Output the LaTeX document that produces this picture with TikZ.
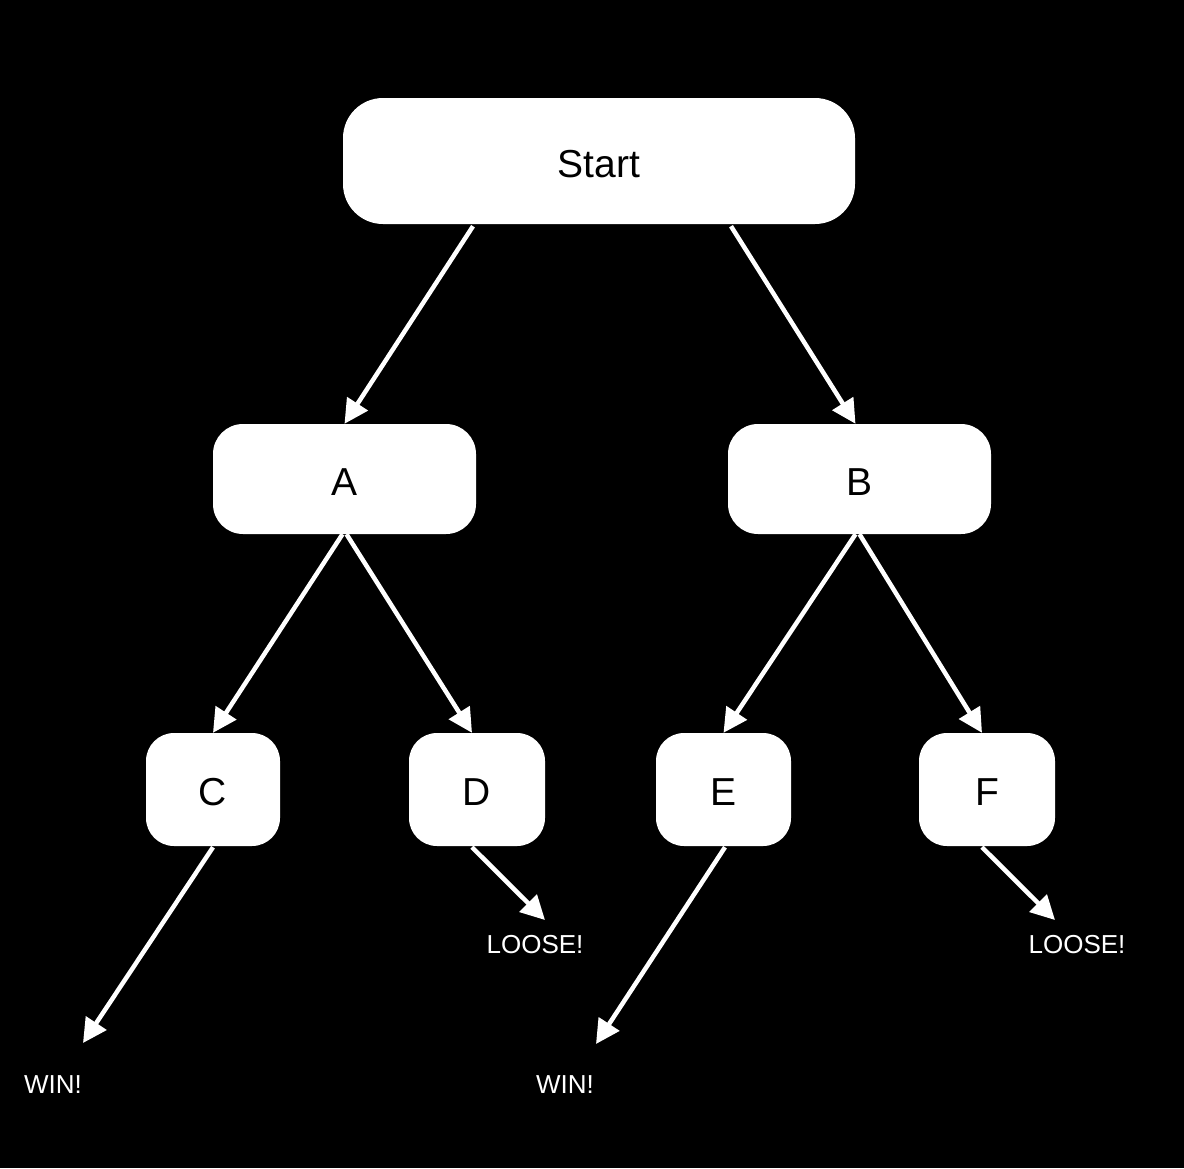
\documentclass[tikz,border=0pt]{standalone}
\usepackage{fontspec}
\setmainfont{Liberation Sans}
\usetikzlibrary{arrows.meta}
\begin{document}
\begin{tikzpicture}[x=1pt,y=-1pt,
  box/.style={fill=white, draw=none, rounded corners=#1, inner sep=0pt,
    font=\fontsize{39}{44}\selectfont, text=black, text height=32pt, text depth=0pt},
  outcome/.style={text=white, inner sep=0pt, font=\fontsize{26}{30}\selectfont},
  link/.style={draw=white, line width=4.5pt, -{Triangle[length=24pt,width=24pt]}}]
  % canvas
  \fill[black] (0,0) rectangle (1184,1168);
  \useasboundingbox (0,0) rectangle (1184,1168);

  % decision boxes
  \node[box=40pt, minimum width=512pt, minimum height=126pt] (start) at (599,161) {Start};
  \node[box=30pt, minimum width=263pt, minimum height=110pt] (a) at (344.5,479) {A};
  \node[box=30pt, minimum width=263pt, minimum height=110pt] (b) at (859.5,479) {B};
  \node[box=28pt, minimum width=134pt, minimum height=113pt] (c) at (213,789.5) {C};
  \node[box=28pt, minimum width=136pt, minimum height=113pt] (d) at (477,789.5) {D};
  \node[box=28pt, minimum width=135pt, minimum height=113pt] (e) at (723.5,789.5) {E};
  \node[box=28pt, minimum width=136pt, minimum height=113pt] (f) at (987,789.5) {F};

  % outcomes
  \node[outcome] (win1) at (53,1085) {WIN!};
  \node[outcome] (win2) at (565,1085) {WIN!};
  \node[outcome] (lose1) at (535,945) {LOOSE!};
  \node[outcome] (lose2) at (1077,945) {LOOSE!};
  \coordinate (w1) at (83,1043);
  \coordinate (w2) at (596,1044);
  \coordinate (l1) at (545,920);
  \coordinate (l2) at (1055,920);

  % connectors
  \draw[link] ([xshift=-126pt,yshift=-2pt]start.south) -- (a.north);
  \draw[link] ([xshift=132pt,yshift=-2pt]start.south) -- ([xshift=-4pt]b.north);
  \draw[link] ([xshift=-2pt]a.south) -- (c.north);
  \draw[link] ([xshift=2pt]a.south) -- ([xshift=-5pt]d.north);
  \draw[link] ([xshift=-4pt]b.south) -- (e.north);
  \draw[link] (b.south) -- ([xshift=-5pt]f.north);
  \draw[link] ([yshift=-1pt]c.south) -- (w1);
  \draw[link] ([xshift=-5pt,yshift=-1pt]d.south) -- (l1);
  \draw[link] ([xshift=1.5pt,yshift=-1pt]e.south) -- (w2);
  \draw[link] ([xshift=-5pt,yshift=-1pt]f.south) -- (l2);
\end{tikzpicture}
\end{document}
